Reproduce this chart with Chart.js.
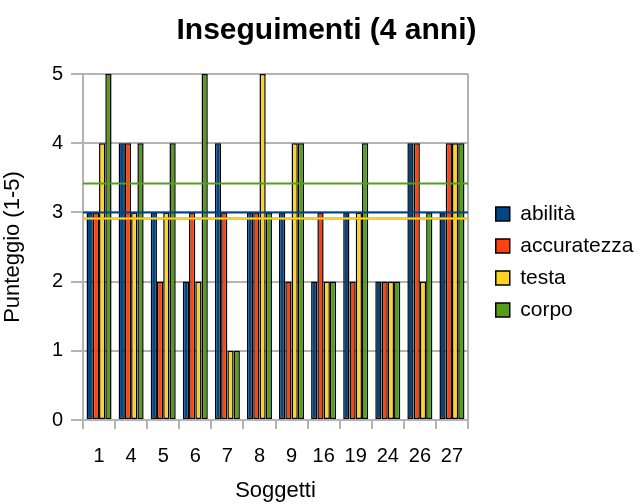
<!DOCTYPE html>
<html>
<head>
<meta charset="utf-8">
<script src="https://cdn.jsdelivr.net/npm/chart.js@4/dist/chart.umd.min.js"></script>
<style>
  html, body { margin: 0; padding: 0; background: #fff; }
  #wrap { width: 643px; height: 504px; }
</style>
</head>
<body>
<div id="wrap"><canvas id="c" width="643" height="504"></canvas></div>
<script>
const categories = ["1", "4", "5", "6", "7", "8", "9", "16", "19", "24", "26", "27"];
const abilita     = [3, 4, 3, 2, 4, 3, 3, 2, 3, 2, 4, 3];
const accuratezza = [3, 4, 2, 3, 3, 3, 2, 3, 2, 2, 4, 4];
const testa       = [4, 3, 3, 2, 1, 5, 4, 2, 3, 2, 2, 4];
const corpo       = [5, 4, 4, 5, 1, 3, 4, 2, 4, 2, 3, 4];
// horizontal average lines: abilità, accuratezza, testa, corpo
const meanValues  = [3.0, 2.92, 2.92, 3.42];
const yTicks = [0, 1, 2, 3, 4, 5];

const colors = ["#004586", "#ff420e", "#ffd320", "#579d1c"];
const names = ["abilità", "accuratezza", "testa", "corpo"];
const series = [abilita, accuratezza, testa, corpo];
const FONT = "'Liberation Sans', Arial, sans-serif";
const GRID = "#b3b3b3";

const meanLines = {
  id: "meanLines",
  afterDatasetsDraw(chart) {
    const { ctx, chartArea, scales } = chart;
    ctx.save();
    // right border of the plot
    ctx.strokeStyle = GRID;
    ctx.lineWidth = 2;
    ctx.beginPath();
    ctx.moveTo(chartArea.right, chartArea.top);
    ctx.lineTo(chartArea.right, chartArea.bottom + 9);
    ctx.stroke();
    [0, 1, 2, 3].forEach(i => {
      const y = Math.round(scales.y.getPixelForValue(meanValues[i])) + 0.5;
      ctx.strokeStyle = colors[i];
      ctx.lineWidth = 2;
      ctx.beginPath();
      ctx.moveTo(chartArea.left, y);
      ctx.lineTo(chartArea.right, y);
      ctx.stroke();
    });
    ctx.restore();
  }
};

new Chart(document.getElementById("c"), {
  type: "bar",
  data: {
    labels: categories,
    datasets: series.map((d, i) => ({
      label: names[i],
      data: d,
      backgroundColor: colors[i],
      borderColor: "#000000",
      borderWidth: 1.5,
      borderSkipped: false,
      categoryPercentage: 0.78,
      barPercentage: 1.0
    }))
  },
  options: {
    responsive: false,
    animation: false,
    layout: { padding: { left: 10, right: 0, top: 0, bottom: 0 } },
    plugins: {
      title: {
        display: true,
        text: "Inseguimenti (4 anni)",
        color: "#000",
        font: { family: FONT, size: 30, weight: "bold" },
        padding: { top: 13, bottom: 25 }
      },
      legend: {
        position: "right",
        title: { display: true, text: " ", font: { size: 10 }, padding: { top: 4, bottom: 4 } },
        labels: {
          color: "#000",
          font: { family: FONT, size: 21 },
          boxWidth: 14,
          boxHeight: 14,
          padding: 11
        }
      },
      tooltip: { enabled: false }
    },
    scales: {
      x: {
        grid: { display: true, drawOnChartArea: false, offset: true, tickLength: 9, color: GRID, lineWidth: 2 },
        border: { display: true, color: GRID, width: 2 },
        ticks: { color: "#000", font: { family: FONT, size: 20 }, padding: 15, maxRotation: 0 },
        title: { display: true, text: "Soggetti", color: "#000", font: { family: FONT, size: 22 }, padding: 0 },
        afterFit(s) { s.height = 84; }
      },
      y: {
        min: 0, max: 5,
        afterBuildTicks(s) { s.ticks = yTicks.map(v => ({ value: v })); },
        grid: { color: GRID, tickLength: 12, lineWidth: 2 },
        border: { display: true, color: GRID, width: 2 },
        ticks: { color: "#000", font: { family: FONT, size: 20 }, padding: 8 },
        title: { display: true, text: "Punteggio (1-5)", color: "#000", font: { family: FONT, size: 22 }, padding: { top: -10.2, bottom: 0 } },
        afterFit(s) { s.width = 73; }
      },
      y2: {
        display: false,
        position: "right",
        min: 0, max: 5,
        afterFit(s) { s.width = 16.75; }
      }
    }
  },
  plugins: [meanLines]
});
</script>
</body>
</html>
